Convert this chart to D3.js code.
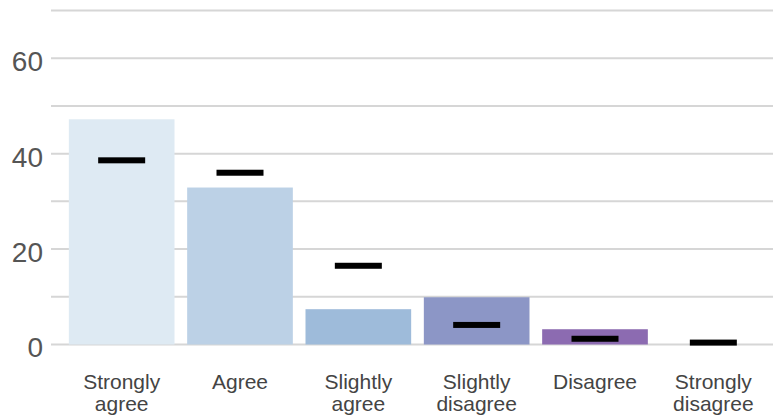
<!DOCTYPE html>
<html>
<head>
<meta charset="utf-8">
<script src="https://cdn.jsdelivr.net/npm/d3@7"></script>
<style>
  html, body { margin: 0; padding: 0; background: #fff; }
  svg { display: block; }
</style>
</head>
<body>
<svg id="chart" width="773" height="419"></svg>
<script>
const categories = [["Strongly", "agree"], ["Agree"], ["Slightly", "agree"], ["Slightly", "disagree"], ["Disagree"], ["Strongly", "disagree"]];
const barValues = [47.2, 32.9, 7.4, 9.9, 3.2, 0];
const markerValues = [38.6, 36.0, 16.5, 4.1, 1.2, 0.4];
const barColors = ["#deeaf3", "#bcd1e6", "#9ebbda", "#8c96c6", "#8c6bb1", "#88419d"];
const yTickLabels = [0, 20, 40, 60];
const gridValues = [0, 10, 20, 30, 40, 50, 60, 70];

const svg = d3.select("#chart");
const keys = categories.map(c => c.join(" "));

const x = d3.scaleBand().domain(keys).range([57, 778]).paddingInner(0.107).paddingOuter(0.1);
const y = d3.scaleLinear().domain([0, 70]).range([344.5, 10.5]);

// gridlines
svg.append("g").selectAll("line").data(gridValues).join("line")
  .attr("x1", 51).attr("x2", 773)
  .attr("y1", d => y(d)).attr("y2", d => y(d))
  .attr("stroke", "#d6d6d6").attr("stroke-width", 2);

// y tick labels
svg.append("g").selectAll("text").data(yTickLabels).join("text")
  .attr("x", 43).attr("y", d => y(d)).attr("dy", "0.46em")
  .attr("text-anchor", "end")
  .attr("font-family", "Liberation Sans, Arial, sans-serif")
  .attr("font-size", 28).attr("fill", "#555")
  .text(d => d);

// bars
svg.append("g").selectAll("rect").data(barValues).join("rect")
  .attr("x", (d, i) => x(keys[i]))
  .attr("width", x.bandwidth())
  .attr("y", d => y(d))
  .attr("height", d => y(0) - y(d))
  .attr("fill", (d, i) => barColors[i]);

// markers
const mw = 47, mh = 6;
svg.append("g").selectAll("rect").data(markerValues).join("rect")
  .attr("x", (d, i) => x(keys[i]) + x.bandwidth() / 2 - mw / 2)
  .attr("width", mw)
  .attr("y", d => y(d) - mh / 2)
  .attr("height", mh)
  .attr("fill", "#000");

// x labels
const xl = svg.append("g").selectAll("text").data(categories).join("text")
  .attr("x", (d, i) => x(keys[i]) + x.bandwidth() / 2)
  .attr("y", 389)
  .attr("text-anchor", "middle")
  .attr("font-family", "Liberation Sans, Arial, sans-serif")
  .attr("font-size", 21).attr("fill", "#444");
xl.selectAll("tspan").data(d => d).join("tspan")
  .attr("x", function() { return d3.select(this.parentNode).attr("x"); })
  .attr("dy", (d, i) => i === 0 ? 0 : 22)
  .text(d => d);
</script>
</body>
</html>
